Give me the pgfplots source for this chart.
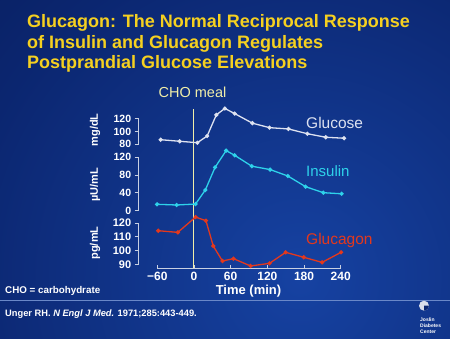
\documentclass[border=0pt]{standalone}
\usepackage{fontspec}
\setmainfont{Liberation Sans}
\usepackage{pgfplots}
\pgfplotsset{compat=1.18}
\definecolor{bgA}{HTML}{1642A2}
\definecolor{bgB}{HTML}{0B2670}
\definecolor{bgC}{HTML}{040A2C}
\definecolor{titlecol}{HTML}{F5D020}
\definecolor{chocol}{HTML}{F0EEA8}
\definecolor{axiscol}{HTML}{C8D0E2}
\definecolor{glucol}{HTML}{DDE2F0}
\definecolor{inscol}{HTML}{2ED2EA}
\definecolor{gcgcol}{HTML}{E4381C}
\definecolor{sepcol}{HTML}{6A88C8}
\pgfdeclareradialshading{bgshade}{\pgfpoint{0bp}{0bp}}{color(0bp)=(bgA); color(20bp)=(bgB); color(50bp)=(bgC)}
\pgfplotsset{
  panel/.style={
    scale only axis, width=201.7pt, xmin=-90, xmax=240, clip=false,
    axis x line=none, axis y line*=left,
    y axis line style={-, draw=axiscol, line width=0.9pt},
    ytick style={draw=axiscol, line width=0.9pt},
    tick align=outside, major tick length=4pt,
    yticklabel style={font=\bfseries\fontsize{10.5}{12}\selectfont, text=white},
    /pgf/number format/assume math mode=true,
    anchor=south west,
    every axis plot/.append style={line width=1.3pt, mark=*, mark size=1.4pt},
  }
}
\begin{document}
\begin{tikzpicture}[x=1pt,y=1pt]
\useasboundingbox (0,0) rectangle (450,338);
\begin{scope}
\clip (0,0) rectangle (450,338);
\shade[shading=bgshade] (300,60) circle (430);
\end{scope}
\draw[sepcol, line width=0.6pt] (0,38) -- (450,38);
% title
\node[anchor=base west, inner sep=0, text=titlecol, font=\bfseries\fontsize{18}{21}\selectfont] at (27,310.3) {Glucagon: The Normal Reciprocal Response};
\node[anchor=base west, inner sep=0, text=titlecol, font=\bfseries\fontsize{18}{21}\selectfont] at (27,289.5) {of Insulin and Glucagon Regulates};
\node[anchor=base west, inner sep=0, text=titlecol, font=\bfseries\fontsize{18}{21}\selectfont] at (27,269) {Postprandial Glucose Elevations};
% x axis panel with meal line
\begin{axis}[scale only axis, width=183.4pt, height=159pt, at={(157.3pt,70pt)}, anchor=south west,
  xmin=-60, xmax=240, ymin=0, ymax=159, clip=false,
  axis x line*=bottom, axis y line=none,
  x axis line style={-, draw=axiscol, line width=0.9pt},
  xtick={-60,0,60,120,180,240}, xticklabels={−60,0,60,120,180,240},
  xtick style={draw=axiscol, line width=0.9pt},
  tick align=inside, major tick length=3.5pt,
  xticklabel style={font=\bfseries\fontsize{12}{14}\selectfont, text=white, yshift=-1pt},
  /pgf/number format/assume math mode=true]
\draw[chocol, line width=1pt] (axis cs:0,0) -- (axis cs:0,159);
\end{axis}
% glucose
\begin{axis}[panel, height=25.6pt, at={(138.7pt,193.7pt)}, ymin=80, ymax=120, ytick={80,100,120}]
\addplot[glucol, mark options={fill=glucol}] coordinates {
(-54,87.2) (-23,84.7) (6,82.5) (22,93) (37,126) (51,136) (67,128) (96,113) (124,106) (155,104) (186,96.5) (216,91) (246,89.5)};
\end{axis}
% insulin
\begin{axis}[panel, height=53.4pt, at={(138.7pt,127.3pt)}, ymin=0, ymax=120, ytick={0,40,80,120}]
\addplot[inscol, mark options={fill=inscol}] coordinates {
(-60,14.4) (-28,12.8) (3,15) (19,46.5) (35,97.5) (53,135) (67,124.5) (95,100) (125,92.4) (154,78) (183,54) (212,40.5) (242,38)};
\end{axis}
% glucagon
\begin{axis}[panel, height=41.3pt, at={(138.7pt,73.7pt)}, ymin=90, ymax=120, ytick={90,100,110,120},
  yticklabel style={font=\bfseries\fontsize{11}{12}\selectfont, text=white}]
\addplot[gcgcol, mark options={fill=gcgcol}] coordinates {
(-58,114.4) (-26,113.2) (3,124.3) (20,121.7) (32,103.3) (47,92.4) (65,94.1) (93,88.8) (124,90.7) (150.5,98.7) (180,95.1) (210,91.4) (241,98.7)};
\end{axis}
% labels
\node[anchor=base, inner sep=0, text=chocol, font=\fontsize{14.5}{16}\selectfont] at (192.5,240.7) {CHO meal};
\node[anchor=base west, inner sep=0, text=glucol, font=\fontsize{15.5}{17}\selectfont] at (306,209.7) {Glucose};
\node[anchor=base west, inner sep=0, text=inscol, font=\fontsize{15}{17}\selectfont] at (306,161) {Insulin};
\node[anchor=base west, inner sep=0, text=gcgcol, font=\fontsize{15.5}{17}\selectfont] at (306,94) {Glucagon};
\node[rotate=90, inner sep=0, text=white, font=\bfseries\fontsize{11}{12}\selectfont] at (95,208) {mg/dL};
\node[rotate=90, inner sep=0, text=white, font=\bfseries\fontsize{11}{12}\selectfont] at (95,153) {µU/mL};
\node[rotate=90, inner sep=0, text=white, font=\bfseries\fontsize{11}{12}\selectfont] at (95,95) {pg/mL};
\node[anchor=base, inner sep=0, text=white, font=\bfseries\fontsize{13}{15}\selectfont] at (248.5,44) {Time (min)};
\node[anchor=base west, inner sep=0, text=white, font=\bfseries\fontsize{9.8}{11}\selectfont] at (5,44.7) {CHO = carbohydrate};
\node[anchor=base west, inner sep=0, text=white, font=\bfseries\fontsize{9.3}{11}\selectfont] at (5,22) {Unger RH. \textit{N Engl J Med.} 1971;285:443-449.};
% logo
\fill[white!85!bgB] (424,32.3) circle (5);
\fill[bgB] (424,32.3) -- (424,27.3) arc (-90:0:5) -- cycle;
\node[anchor=base west, inner sep=0, text=white, font=\bfseries\fontsize{5}{6}\selectfont] at (420,17) {Joslin};
\node[anchor=base west, inner sep=0, text=white, font=\bfseries\fontsize{5}{6}\selectfont] at (420,11) {Diabetes};
\node[anchor=base west, inner sep=0, text=white, font=\bfseries\fontsize{5}{6}\selectfont] at (420,5) {Center};
\end{tikzpicture}
\end{document}
